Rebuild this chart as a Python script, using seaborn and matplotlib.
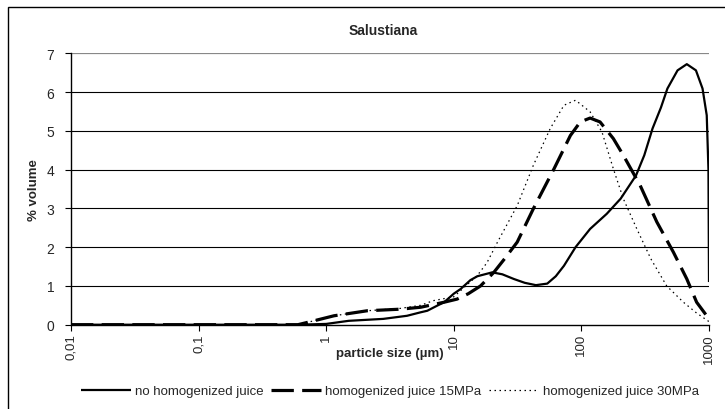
import matplotlib
matplotlib.use("Agg")
import matplotlib.pyplot as plt
import seaborn as sns
import pandas as pd
from matplotlib.patches import Rectangle

sns.set_theme(style="white")
plt.rcParams['font.family'] = ['Liberation Sans', 'DejaVu Sans']

title = "Salustiana"
series_names = ["no homogenized juice", "homogenized juice 15MPa", "homogenized juice 30MPa"]

x_nohom = [0.01, 0.1, 0.6, 1.0, 1.5, 2.8, 4.3, 5.5, 6.2, 7.4, 8.4, 10, 11.3, 13.5, 15.3, 20, 24,
           29.5, 36, 44, 54, 63, 73, 90, 117, 158, 203, 268, 311, 361, 420, 472, 567, 670,
           790, 890, 960, 990, 1000]
y_nohom = [0, 0, 0, 0.02, 0.1, 0.15, 0.23, 0.32, 0.36, 0.49, 0.58, 0.8, 0.92, 1.15, 1.25, 1.35, 1.3,
           1.18, 1.08, 1.02, 1.06, 1.25, 1.52, 2.0, 2.47, 2.86, 3.25, 3.85, 4.37, 5.06, 5.6, 6.09,
           6.56, 6.72, 6.56, 6.09, 5.4, 4.0, 1.1]

x_15 = [0.01, 0.1, 0.6, 0.8, 1.15, 2.1, 3.8, 5.5, 8.4, 10.6, 13, 16.2, 20.6, 25, 31.4, 42, 61, 82,
        98, 117, 140, 178, 213, 289, 390, 526, 670, 800, 1000]
y_15 = [0, 0, 0, 0.1, 0.23, 0.36, 0.4, 0.45, 0.58, 0.66, 0.8, 1.0, 1.35, 1.7, 2.13, 2.99, 4.02, 4.88,
        5.23, 5.33, 5.23, 4.8, 4.37, 3.59, 2.65, 1.87, 1.18, 0.58, 0.15]

x_30 = [0.01, 0.1, 0.6, 0.8, 1.15, 2.1, 3.8, 5.5, 6.9, 10, 15.3, 18.2, 22, 31.4, 42, 57, 73, 90,
        117, 145, 178, 213, 272, 350, 466, 630, 800, 1000]
y_30 = [0, 0, 0, 0.1, 0.23, 0.36, 0.42, 0.5, 0.62, 0.72, 1.27, 1.6, 2.13, 3.07, 4.11, 5.06, 5.66, 5.79,
        5.49, 4.97, 4.02, 3.25, 2.47, 1.7, 1.0, 0.58, 0.3, 0.08]

x_ticks = [0.01, 0.1, 1, 10, 100, 1000]
x_ticklabels = ["0,01", "0,1", "1", "10", "100", "1000"]
y_ticks = [0, 1, 2, 3, 4, 5, 6, 7]

W, H = 725, 410
fig = plt.figure(figsize=(W / 100, H / 100), dpi=100)
ax = fig.add_axes([71 / W, 1 - 325.7 / H, (709 - 71) / W, (325.7 - 54.3) / H])

df_a = pd.DataFrame({"x": x_nohom, "y": y_nohom})
df_b = pd.DataFrame({"x": x_15, "y": y_15})
df_c = pd.DataFrame({"x": x_30, "y": y_30})

sns.lineplot(data=df_a, x="x", y="y", ax=ax, color="black", lw=1.6, sort=False)
sns.lineplot(data=df_b, x="x", y="y", ax=ax, color="black", lw=2.3, sort=False)
sns.lineplot(data=df_c, x="x", y="y", ax=ax, color="black", lw=0.9, sort=False)
lines = ax.get_lines()
lines[1].set_dashes((7, 2.6))
lines[2].set_dashes((1.2, 2.8))
for ln in lines:
    ln.set_solid_capstyle("butt")
    ln.set_dash_capstyle("butt")

ax.set_xscale("log")
ax.set_xlim(0.01, 1000)
ax.set_ylim(0, 7)
ax.set_xticks(x_ticks)
ax.set_xticklabels(x_ticklabels, rotation=90, fontsize=9.5)
ax.minorticks_off()
ax.set_yticks(y_ticks)
ax.set_yticklabels([str(v) for v in y_ticks], fontsize=10)
ax.tick_params(axis="x", direction="out", length=4, width=0.8, color="black", pad=2, bottom=True)
ax.tick_params(axis="y", direction="out", length=4, width=0.8, color="black", pad=8, left=True)
for t in ax.get_xticklabels():
    t.set_va("top")

for v in y_ticks[1:]:
    ax.axhline(v, color="#888888" if v == 7 else "black", lw=1.6 if v == 7 else 0.8, zorder=0)

ax.spines["left"].set_color("black")
ax.spines["left"].set_linewidth(1.0)
ax.spines["bottom"].set_color("black")
ax.spines["bottom"].set_linewidth(1.0)
ax.spines["top"].set_visible(False)
ax.spines["right"].set_visible(False)
ax.set_facecolor("white")

ax.set_xlabel("")
ax.set_ylabel("")
fig.text(390 / W, 1 - 354 / H, "particle size (µm)", ha="center", va="center",
         fontsize=9.5, fontweight="bold")
fig.text(34 / W, 1 - 190 / H, "% volume", ha="center", va="center", rotation=90,
         fontsize=9.5, fontweight="bold")
fig.text(383 / W, 1 - 31 / H, title, ha="center", va="center", fontsize=10, fontweight="bold")

leg = fig.legend(lines, series_names, loc="center", bbox_to_anchor=(390 / W, 1 - 392 / H),
                 ncol=3, frameon=False, fontsize=9.5, handlelength=3.8, handletextpad=0.3,
                 columnspacing=0.6, borderpad=0.2)

fig.patches.append(Rectangle((8 / W, -0.1), 1.2, 1 - 8 / H + 0.1, transform=fig.transFigure,
                             fill=False, edgecolor="black", lw=1.0))

fig.savefig("out.png", dpi=100)
